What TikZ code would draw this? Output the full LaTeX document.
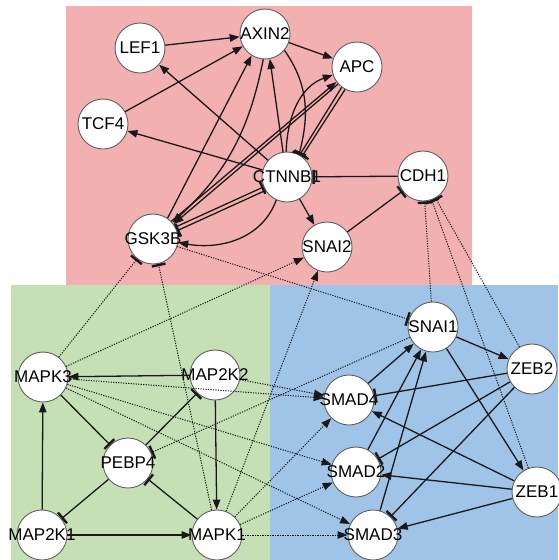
\documentclass[tikz,border=0pt]{standalone}
\usepackage{fontspec}
\newfontfamily\genefont{Liberation Sans}
\usetikzlibrary{arrows.meta}

\definecolor{wntpink}{RGB}{243,176,177}
\definecolor{mapkgreen}{RGB}{197,224,180}
\definecolor{emtblue}{RGB}{160,196,232}
\definecolor{rimgray}{RGB}{95,95,95}
\definecolor{edgeblack}{RGB}{25,25,25}

\begin{document}
\begin{tikzpicture}[x=1pt, y=1pt,
   genelabel/.style={font=\genefont\fontsize{17}{17}\selectfont, inner sep=0pt},
   gene/.style={circle, draw=rimgray, line width=0.9pt, fill=white, minimum size=50pt, inner sep=0pt, label={[genelabel]center:#1}},
   act/.style={draw=edgeblack, line width=1.3pt, -{Triangle[length=10pt, width=7.5pt]}},
   inh/.style={draw=edgeblack, line width=1.3pt, -{Bar[width=14pt, line width=2.4pt]}},
   xact/.style={draw=edgeblack, line width=1pt, dash pattern=on 1.2pt off 1.3pt, -{Triangle[length=10pt, width=7.5pt]}},
   xinh/.style={draw=edgeblack, line width=1pt, dash pattern=on 1.2pt off 1.3pt, -{Bar[width=14pt, line width=2.4pt]}}]
   \useasboundingbox (0,0) rectangle (558,-560);
   % pathway backgrounds
   \fill[wntpink] (66,-6) rectangle (472,-285);
   \fill[mapkgreen] (11,-285) rectangle (270,-560);
   \fill[emtblue] (270,-285) rectangle (558,-560);
   % genes
   \node[gene=AXIN2] (AXIN2) at (265,-34) {};
   \node[gene=LEF1] (LEF1) at (140,-48) {};
   \node[gene=APC] (APC) at (357,-67) {};
   \node[gene=TCF4] (TCF4) at (103,-124) {};
   \node[gene=CTNNB1] (CTNNB1) at (287,-177) {};
   \node[gene=CDH1] (CDH1) at (423,-176) {};
   \node[gene=GSK3B] (GSK3B) at (153,-239) {};
   \node[gene=SNAI2] (SNAI2) at (327,-247) {};
   \node[gene=MAPK3] (MAPK3) at (43,-377) {};
   \node[gene=MAP2K2] (MAP2K2) at (215,-375) {};
   \node[gene=PEBP4] (PEBP4) at (128,-463) {};
   \node[gene=MAP2K1] (MAP2K1) at (42,-535) {};
   \node[gene=MAPK1] (MAPK1) at (217,-535) {};
   \node[gene=SNAI1] (SNAI1) at (433,-327) {};
   \node[gene=ZEB2] (ZEB2) at (532,-369) {};
   \node[gene=SMAD4] (SMAD4) at (349,-400) {};
   \node[gene=SMAD2] (SMAD2) at (356,-472) {};
   \node[gene=ZEB1] (ZEB1) at (537,-492) {};
   \node[gene=SMAD3] (SMAD3) at (373,-535) {};
   % Wnt module
   \draw[act] (LEF1) -- (AXIN2);
   \draw[act] (TCF4) -- (AXIN2);
   \draw[act] (AXIN2) -- (APC);
   \draw[act] (CTNNB1) -- (LEF1);
   \draw[act] (CTNNB1) -- (TCF4);
   \draw[act] (GSK3B.55) -- (AXIN2.238);
   \draw[act] (AXIN2.266) to[bend left=18] (GSK3B.40);
   \draw[act] (CTNNB1.99) -- (AXIN2.281);
   \draw[inh] (AXIN2.-40) to[out=-55, in=75] (CTNNB1.62);
   \draw[act] (CTNNB1.92) to[out=88, in=200] (APC.198);
   \draw[inh] (APC.233) -- (CTNNB1.60);
   \draw[inh] (APC.242) -- (CTNNB1.54);
   \draw[act] (GSK3B.44) -- (APC.216);
   \draw[act] (APC.222) -- (GSK3B.36);
   \draw[inh] (GSK3B.28) -- (CTNNB1.203);
   \draw[inh] (CTNNB1.212) -- (GSK3B.19);
   \draw[act] (CTNNB1.245) to[out=250, in=-10] (GSK3B.-8);
   \draw[act] (CTNNB1) -- (SNAI2);
   \draw[inh] (SNAI2) -- (CDH1);
   \draw[inh] (CDH1) -- (CTNNB1);
   % cross-talk
   \draw[xinh] (MAPK3) -- (GSK3B);
   \draw[xinh] (MAPK1) -- (GSK3B);
   \draw[xinh] (GSK3B) -- (SNAI1);
   \draw[xact] (MAPK3) -- (SNAI2);
   \draw[xact] (MAPK1) -- (SNAI2);
   \draw[xact] (MAPK3) -- (SMAD4);
   \draw[xact] (MAP2K2) -- (SMAD4);
   \draw[xact] (MAPK3) -- (SMAD2);
   \draw[xact] (MAPK3) -- (SMAD3);
   \draw[xact] (MAPK1) -- (SMAD4);
   \draw[xact] (MAPK1) -- (SMAD2);
   \draw[xact] (MAPK1) -- (SMAD3);
   \draw[xinh] (SNAI1) -- (PEBP4);
   \draw[xinh] (SNAI1) -- (CDH1);
   \draw[xinh] (ZEB1) -- (CDH1);
   \draw[xinh] (ZEB2) -- (CDH1);
   % MAPK module
   \draw[act] (MAP2K2) -- (MAPK3);
   \draw[act] (MAP2K2) -- (MAPK1);
   \draw[act] (MAP2K1) -- (MAPK3);
   \draw[act] (MAP2K1) -- (MAPK1);
   \draw[inh] (MAPK3) -- (PEBP4);
   \draw[inh] (PEBP4) -- (MAP2K2);
   \draw[inh] (PEBP4) -- (MAP2K1);
   \draw[inh] (MAPK1) -- (PEBP4);
   % EMT module
   \draw[act] (SNAI1) -- (ZEB2);
   \draw[act] (SNAI1) -- (ZEB1);
   \draw[act] (SMAD4) -- (SNAI1);
   \draw[act] (SMAD2) -- (SNAI1);
   \draw[act] (SMAD3) -- (SNAI1);
   \draw[inh] (ZEB2) -- (SMAD4);
   \draw[inh] (ZEB2) -- (SMAD2);
   \draw[inh] (ZEB2) -- (SMAD3);
   \draw[act] (ZEB1) -- (SMAD4);
   \draw[act] (ZEB1) -- (SMAD2);
   \draw[act] (ZEB1) -- (SMAD3);
\end{tikzpicture}
\end{document}
